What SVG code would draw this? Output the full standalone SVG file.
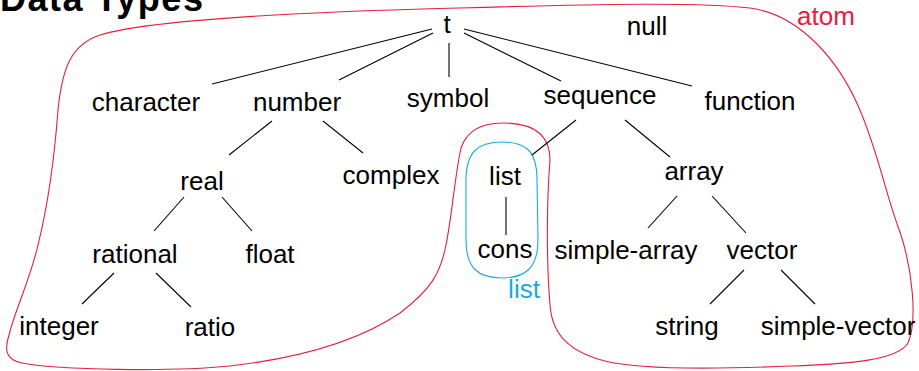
<svg xmlns="http://www.w3.org/2000/svg" width="919" height="371" viewBox="0 0 919 371">
<style>
text{font-family:"Liberation Sans",Arial,sans-serif;font-size:26px;fill:#000;text-anchor:middle}
.title{font-size:36px;font-weight:bold;text-anchor:start;letter-spacing:1.5px}
.edge{stroke:#000;stroke-width:1.1;fill:none}
.atom{stroke:#e5203b;stroke-width:1.1;fill:none}
.lst{stroke:#18a9e4;stroke-width:1.1;fill:none}
</style>
<rect width="919" height="371" fill="#fff"/>
<text class="title" x="0" y="11">Data Types</text>
<path class="atom" d="M459,8 C600,4 700,2 750,8 C800,15 840,60 862,115 C880,160 886,195 900,232 C912,268 918,320 908,343 C898,360 850,364 792,366 C720,369 640,370 605,361 C570,352 552,335 550,305 C547,270 546,210 550,160 C550,132 530,123 503,123 C478,123 466,133 461,148 C455,175 452,215 446,245 C440,275 430,290 400,313 C360,340 300,358 230,366 C170,372 60,370 22,363 C6,360 4,350 9,335 C15,310 30,280 38,245 C48,205 55,150 58,110 C62,70 70,45 100,35 C150,20 300,12 459,8 Z"/>
<path class="lst" d="M466,180 C466,150 480,142 502,142 C525,142 537,150 537,180 L538,240 C538,268 525,278 502,278 C478,278 466,268 466,240 Z"/>
<g id="connectors">
<line class="edge" x1="432" y1="29" x2="212" y2="84"/>
<line class="edge" x1="433" y1="33" x2="339" y2="80"/>
<line class="edge" x1="449" y1="43" x2="449" y2="77"/>
<line class="edge" x1="464" y1="33" x2="561" y2="81"/>
<line class="edge" x1="464" y1="29" x2="692" y2="86"/>
<line class="edge" x1="272" y1="121" x2="229" y2="155"/>
<line class="edge" x1="323" y1="121" x2="363" y2="153"/>
<line class="edge" x1="576" y1="120" x2="532" y2="155"/>
<line class="edge" x1="625" y1="120" x2="670" y2="157"/>
<line class="edge" x1="184" y1="197" x2="154" y2="231"/>
<line class="edge" x1="222" y1="197" x2="252" y2="231"/>
<line class="edge" x1="114" y1="273" x2="82" y2="304"/>
<line class="edge" x1="156" y1="273" x2="191" y2="307"/>
<line class="edge" x1="506" y1="197" x2="506" y2="235"/>
<line class="edge" x1="677" y1="196" x2="648" y2="228"/>
<line class="edge" x1="712" y1="196" x2="746" y2="233"/>
<line class="edge" x1="744" y1="270" x2="710" y2="304"/>
<line class="edge" x1="781" y1="270" x2="815" y2="304"/>
</g>
<g id="t"><text x="447" y="33">t</text></g>
<g id="null"><text x="647" y="35">null</text></g>
<g id="atom-label"><text x="826" y="25" style="fill:#e5203b">atom</text></g>
<g id="character"><text x="146" y="111">character</text></g>
<g id="number"><text x="297" y="111">number</text></g>
<g id="symbol"><text x="448" y="107">symbol</text></g>
<g id="sequence"><text x="600" y="104">sequence</text></g>
<g id="function"><text x="750" y="110">function</text></g>
<g id="real"><text x="202" y="190">real</text></g>
<g id="complex"><text x="391" y="184">complex</text></g>
<g id="list"><text x="505" y="185">list</text></g>
<g id="array"><text x="694" y="180">array</text></g>
<g id="rational"><text x="135" y="263">rational</text></g>
<g id="float"><text x="270" y="263">float</text></g>
<g id="cons"><text x="505" y="258">cons</text></g>
<g id="simple-array"><text x="626" y="259">simple-array</text></g>
<g id="vector"><text x="762" y="259">vector</text></g>
<g id="integer"><text x="59" y="335">integer</text></g>
<g id="ratio"><text x="210" y="336">ratio</text></g>
<g id="string"><text x="687" y="335">string</text></g>
<g id="simple-vector"><text x="838" y="335">simple-vector</text></g>
<g id="list-label"><text x="524" y="298" style="fill:#18a9e4">list</text></g>
</svg>
